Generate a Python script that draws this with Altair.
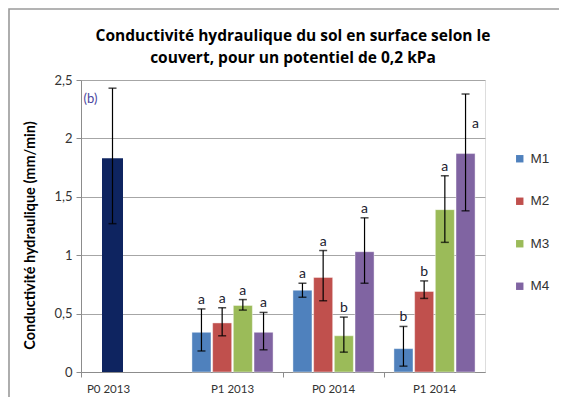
import altair as alt
import pandas as pd

groups = ["P0 2013", "P1 2013", "P0 2014", "P1 2014"]
series = ["M1", "M2", "M3", "M4"]
series_colors = ["#4F81BD", "#C0504D", "#9BBB59", "#8064A2"]

# P0 2013 : single reference bar
ref_group = ["P0 2013"]
ref_mean = [1.83]
ref_low = [1.27]
ref_high = [2.43]
ref_letter = ["(b)"]

# M1..M4 by period
m_group = ["P1 2013"] * 4 + ["P0 2014"] * 4 + ["P1 2014"] * 4
m_series = series * 3
m_mean = [0.34, 0.42, 0.57, 0.34, 0.70, 0.81, 0.31, 1.03, 0.20, 0.69, 1.39, 1.87]
m_low = [0.18, 0.31, 0.53, 0.19, 0.64, 0.61, 0.17, 0.76, 0.05, 0.63, 1.11, 1.38]
m_high = [0.54, 0.55, 0.62, 0.51, 0.76, 1.04, 0.47, 1.32, 0.39, 0.78, 1.68, 2.38]
m_letter = ["a", "a", "a", "a", "a", "a", "b", "a", "b", "b", "a", "a"]

df = pd.DataFrame({"group": m_group, "series": m_series, "mean": m_mean,
                   "low": m_low, "high": m_high, "letter": m_letter})
ref = pd.DataFrame({"group": ref_group, "mean": ref_mean, "low": ref_low,
                    "high": ref_high, "letter": ref_letter})
frame_df = pd.DataFrame({"k": [0]})

FONT = "Lato"

x_enc = alt.X("group:N", title=None,
              scale=alt.Scale(domain=groups, paddingInner=0, paddingOuter=0),
              axis=alt.Axis(bandPosition=0, labelAngle=0, labelFontSize=11.5,
                            labelFont=FONT, labelColor="#333333", labelPadding=6,
                            ticks=True, tickSize=5, tickColor="#8c8c8c",
                            domainColor="#8c8c8c", grid=False,
                            labelOffset={"condition": {"test": "datum.value === 'P0 2013'", "value": -23},
                                         "value": 0},
                            tickOpacity={"condition": {"test": "datum.value === 'P1 2013'", "value": 0},
                                         "value": 1}))
xo_enc = alt.XOffset("series:N",
                     scale=alt.Scale(domain=series, paddingInner=0.08, paddingOuter=0.48))
y_scale = alt.Scale(domain=[0, 2.5], nice=False)
y_enc = alt.Y("mean:Q", scale=y_scale,
              title="Conductivité  hydraulique  (mm/min)",
              axis=alt.Axis(values=[0, 0.5, 1, 1.5, 2, 2.5],
                            labelExpr="replace(format(datum.value, '~g'), '.', ',')",
                            labelFontSize=13, labelFont=FONT, labelColor="#333333",
                            labelPadding=4, tickSize=5, tickColor="#8c8c8c",
                            domainColor="#8c8c8c", gridColor="#a6a6a6",
                            titleFont=FONT, titleFontSize=14.5, titleFontWeight="bold",
                            titleColor="#000000", titlePadding=16, titleY=155))

bars = alt.Chart(df).mark_bar(stroke="#ffffff", strokeWidth=0.6, strokeOpacity=0.7).encode(
    x=x_enc, xOffset=xo_enc, y=y_enc,
    color=alt.Color("series:N", scale=alt.Scale(domain=series, range=series_colors),
                    legend=alt.Legend(title=None, orient="none", legendX=432, legendY=72,
                                      symbolType="square", symbolSize=55,
                                      labelFontSize=13.5, labelFont="Liberation Sans",
                                      labelColor="#333333", rowPadding=27.5,
                                      symbolStrokeWidth=0)))

err = alt.Chart(df).mark_rule(color="#000000", strokeWidth=1.2).encode(
    x="group:N", xOffset="series:N", y=alt.Y("low:Q", scale=y_scale), y2="high:Q")
cap_hi = alt.Chart(df).mark_tick(color="#000000", size=8, thickness=1.5, orient="horizontal").encode(
    x="group:N", xOffset="series:N", y=alt.Y("high:Q", scale=y_scale))
cap_lo = alt.Chart(df).mark_tick(color="#000000", size=8, thickness=1.5, orient="horizontal").encode(
    x="group:N", xOffset="series:N", y=alt.Y("low:Q", scale=y_scale))

labels = alt.Chart(df).transform_filter("datum.high < 2.3").mark_text(
    font=FONT, fontSize=14, color="#1a1a2e", dy=-5, baseline="alphabetic").encode(
    x="group:N", xOffset="series:N", y=alt.Y("high:Q", scale=y_scale), text="letter:N")
labels_in = alt.Chart(df).transform_filter("datum.high >= 2.3").transform_calculate(
    ly="(datum.mean + datum.high) / 2").mark_text(
    font=FONT, fontSize=14, color="#1a1a2e", dx=10, baseline="middle").encode(
    x="group:N", xOffset="series:N", y=alt.Y("ly:Q", scale=y_scale), text="letter:N")

REF_OFF = -19
ref_bar = alt.Chart(ref).mark_bar(color="#0E2460", width=21, xOffset=REF_OFF).encode(
    x="group:N", y=alt.Y("mean:Q", scale=y_scale))
ref_err = alt.Chart(ref).mark_rule(color="#000000", strokeWidth=1.2, xOffset=REF_OFF).encode(
    x="group:N", y=alt.Y("low:Q", scale=y_scale), y2="high:Q")
ref_hi = alt.Chart(ref).mark_tick(color="#000000", size=8, thickness=1.5, orient="horizontal",
                                  xOffset=REF_OFF).encode(
    x="group:N", y=alt.Y("high:Q", scale=y_scale))
ref_lo = alt.Chart(ref).mark_tick(color="#000000", size=8, thickness=1.5, orient="horizontal",
                                  xOffset=REF_OFF).encode(
    x="group:N", y=alt.Y("low:Q", scale=y_scale))
ref_lab = alt.Chart(ref).transform_calculate(ly="datum.high - 0.09").mark_text(
    font=FONT, fontSize=13, color="#4A46A0", xOffset=REF_OFF, dx=-22, baseline="middle").encode(
    x="group:N", y=alt.Y("ly:Q", scale=y_scale), text="letter:N")

frame = alt.Chart(frame_df).mark_rect(fill="#ffffff", fillOpacity=0, stroke="#9a9a9a",
                                      strokeWidth=1.6).encode(
    x=alt.value(-72), x2=alt.value(520), y=alt.value(-71), y2=alt.value(360))

chart = alt.layer(frame, bars, err, cap_hi, cap_lo, labels, labels_in,
                  ref_bar, ref_err, ref_hi, ref_lo, ref_lab).properties(
    width=404, height=292,
    padding={"left": 73, "top": 72, "right": 74, "bottom": 25},
    autosize=alt.AutoSizeParams(type="none"),
    title=alt.TitleParams(
        ["Conductivité hydraulique  du sol en surface selon le",
         "couvert, pour un potentiel de 0,2 kPa"],
        font="Open Sans", fontSize=15.5, fontWeight="bold", color="#000000",
        anchor="middle", frame="group", dx=10, offset=-58, lineHeight=22)
).configure_view(stroke=None).configure(background="#ffffff")

chart.save("out.html", embed_options={"renderer": "svg", "actions": False})
